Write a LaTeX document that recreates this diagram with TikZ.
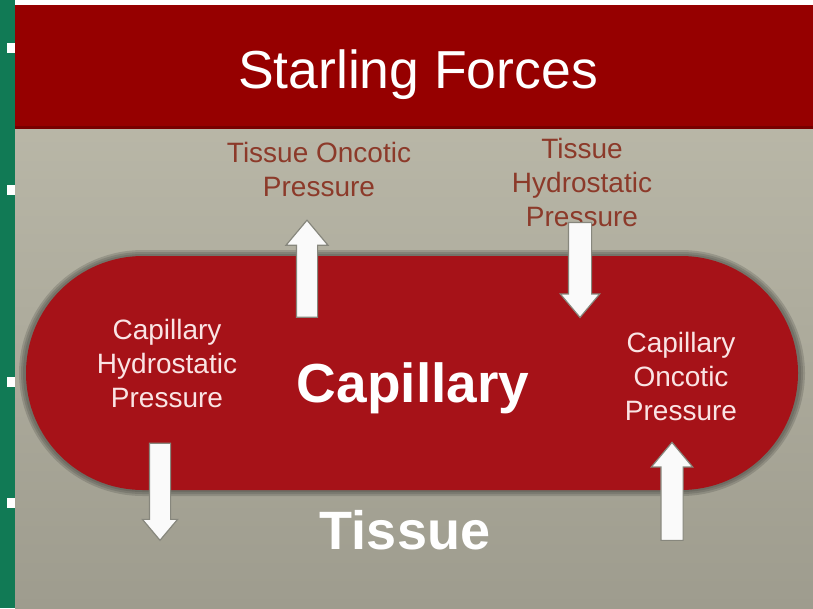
\documentclass[tikz,border=0pt]{standalone}
\usepackage{fontspec}
\setmainfont{Liberation Sans}
\usepackage{xcolor}
\usepackage{tikz}
\usetikzlibrary{positioning, shapes, arrows.meta}

\definecolor{slidegreen}{RGB}{17,122,85}
\definecolor{titlered}{RGB}{150,0,0}
\definecolor{vesselred}{RGB}{166,18,24}
\definecolor{bgtop}{RGB}{191,189,173}
\definecolor{bgbottom}{RGB}{158,156,142}
\definecolor{labelbrown}{RGB}{140,58,42}
\definecolor{labelpink}{RGB}{250,228,228}
\definecolor{arrowedge}{RGB}{135,135,125}

\tikzset{
  outlabel/.style={align=center, text=labelbrown, inner sep=0pt, font=\fontsize{28}{34}\selectfont},
  inlabel/.style={align=center, text=labelpink, inner sep=0pt, font=\fontsize{28}{34}\selectfont},
  presarrow/.style={single arrow, fill=white!96!gray, draw=arrowedge, line width=1.2pt,
    inner xsep=0pt, single arrow tip angle=80}
}

\begin{document}
\begin{tikzpicture}[x=1pt, y=-1pt]
      \useasboundingbox (0,0) rectangle (813,608);

      % Slide background
      \fill[white] (0,0) rectangle (813,608);
      \shade[top color=bgtop, bottom color=bgbottom] (15,5) rectangle (813,608);
      \fill[slidegreen] (0,0) rectangle (15,608);
      \foreach \yb in {43,185,377,498}
        \fill[white] (7,\yb) rectangle (15,\yb+10);

      % Title bar
      \fill[titlered] (15,5) rectangle (813,128);
      \fill[titlered!80!black] (15,126) rectangle (813,129);
      \node[anchor=base, text=white, inner sep=0pt, font=\fontsize{53.5}{60}\selectfont] (title) at (418,88) {Starling Forces};

      % Capillary with soft shadow
      \foreach \d in {7,5,3}
        \fill[black!60!bgbottom, opacity=.22, rounded corners=117+\d] (26-\d,256-\d+1) rectangle (798+\d,490+\d-1);
      \fill[vesselred, rounded corners=117] (26,256) rectangle (798,490);

      \node[anchor=base, text=white, inner sep=0pt, font=\fontsize{55}{60}\selectfont\bfseries] (capillary) at (413,402) {Capillary};
      \node[anchor=base, text=white, inner sep=0pt, font=\fontsize{54}{60}\selectfont\bfseries] (tissue) at (405,549) {Tissue};

      % Pressures
      \node[outlabel] (tissueonc) at (319,169) {Tissue Oncotic\\Pressure};
      \node[outlabel] (tissuehyd) at (582,182) {Tissue\\Hydrostatic\\Pressure};
      \node[inlabel] (caphyd) at (167,363) {Capillary\\Hydrostatic\\Pressure};
      \node[inlabel] (caponc) at (681,376) {Capillary\\Oncotic\\Pressure};

      % Arrows
      \node[presarrow, rotate=90, minimum height=97pt, minimum width=41pt, inner ysep=10pt,
            single arrow head extend=10.5pt] (toarrow) at (307,275) {};
      \node[presarrow, rotate=-90, minimum height=95pt, minimum width=38pt, inner ysep=11pt,
            single arrow head extend=8pt] (tharrow) at (580,263) {};
      \node[presarrow, rotate=-90, minimum height=97pt, minimum width=34pt, inner ysep=10pt,
            single arrow head extend=7pt] (charrow) at (160,485.5) {};
      \node[presarrow, rotate=90, minimum height=98pt, minimum width=40pt, inner ysep=10.5pt,
            single arrow head extend=9.5pt] (coarrow) at (672,498) {};
    \end{tikzpicture}
\end{document}
